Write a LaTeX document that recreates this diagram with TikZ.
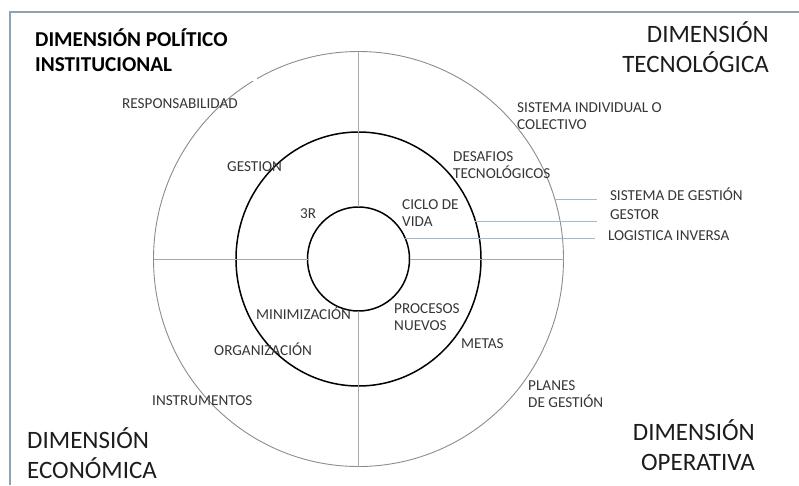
\documentclass[tikz,border=0pt]{standalone}
\usepackage{fontspec}
\setmainfont{Carlito}
\usetikzlibrary{shapes.geometric}
\definecolor{lbl}{HTML}{363636}
\definecolor{bigc}{HTML}{1C1C1C}
\definecolor{ring}{HTML}{8C8C8C}
\definecolor{cross}{HTML}{A8A8A8}
\definecolor{blueline}{HTML}{A2B9CB}
\definecolor{frame}{HTML}{8DA3B3}
\newcommand{\twoL}[2]{\begin{tabular}[t]{@{}l@{}}#1\\#2\end{tabular}}
\newcommand{\twoR}[2]{\begin{tabular}[t]{@{}r@{}}#1\\#2\end{tabular}}
\tikzset{
  ringnode/.style={ellipse, inner sep=0pt, outer sep=0pt},
  lab/.style={font=\fontsize{15.2}{17.5}\selectfont, text=lbl, inner sep=0pt, anchor=base west},
  sidelab/.style={lab, outer xsep=13pt},
  big/.style={font=\fontsize{25}{30.5}\selectfont, text=bigc, inner sep=0pt},
  ttl/.style={font=\fontsize{21.2}{25}\selectfont\bfseries, text=black, inner sep=0pt, anchor=base west},
  crossline/.style={draw=cross, line width=0.6pt},
  bline/.style={draw=blueline, line width=1pt}
}
\begin{document}
\begin{tikzpicture}[x=1pt,y=-1pt]
\useasboundingbox (0,0) rectangle (799,485);
% frame
\draw[frame, line width=1.5pt] (799,12) -- (10,12) -- (10,485);
% rings
\node[ringnode, draw=ring, line width=0.9pt, minimum width=410pt, minimum height=415pt] (outer) at (358.5,259) {};
\node[ringnode, draw=black, line width=1.5pt, minimum width=245pt, minimum height=254pt] (middle) at (358.5,259) {};
\node[ringnode, draw=black, line width=1.5pt, minimum width=102pt, minimum height=104pt] (inner) at (358.5,259) {};
% cross lines
\draw[crossline] (outer.north) -- (inner.north);
\draw[crossline] (inner.south) -- (outer.south);
\draw[crossline] (outer.west) -- (inner.west);
\draw[crossline] (inner.east) -- (outer.east);
% title box
\fill[white] (25,20) rectangle (257,80.5);
\node[ttl] (tpol) at (35,46) {\twoL{DIMENSIÓN POLÍTICO}{INSTITUCIONAL}};
\node[big, anchor=base east] (ttec) at (769,42) {\twoR{DIMENSIÓN}{TECNOLÓGICA}};
\node[big, anchor=base west] (teco) at (27,448) {\twoL{DIMENSIÓN}{ECONÓMICA}};
\node[big, anchor=base east] (tope) at (755,440) {\twoR{DIMENSIÓN}{OPERATIVA}};
% labels
\node[lab] (resp) at (122,108) {RESPONSABILIDAD};
\node[lab] (gest) at (227,171) {GESTION};
\node[lab] (tres) at (300,218) {3R};
\node[lab] (sind) at (517,112) {\twoL{SISTEMA INDIVIDUAL O}{COLECTIVO}};
\node[lab] (desa) at (453,161) {\twoL{DESAFIOS}{TECNOLÓGICOS}};
\node[lab] (cicl) at (402,209) {\twoL{CICLO DE}{VIDA}};
\node[sidelab] (sgest) at (597,200) {SISTEMA DE GESTIÓN};
\node[sidelab] (gestor) at (597,219) {GESTOR};
\node[sidelab] (logi) at (595,240) {LOGISTICA INVERSA};
\node[lab] (mini) at (256,319) {MINIMIZACIÓN};
\node[lab] (orga) at (214,355) {ORGANIZACIÓN};
\node[lab] (inst) at (152,405) {INSTRUMENTOS};
\node[lab] (proc) at (394,313) {\twoL{PROCESOS}{NUEVOS}};
\node[lab] (meta) at (461,348) {METAS};
\node[lab] (plan) at (528,390) {\twoL{PLANES}{DE GESTIÓN}};
% side connectors
\draw[bline] (outer.17) -- (outer.17 -| sgest.west);
\draw[bline] (middle.18.5) -- (middle.18.5 -| gestor.west);
\draw[bline] (inner.24.2) -- (inner.24.2 -| logi.west);
\end{tikzpicture}
\end{document}
